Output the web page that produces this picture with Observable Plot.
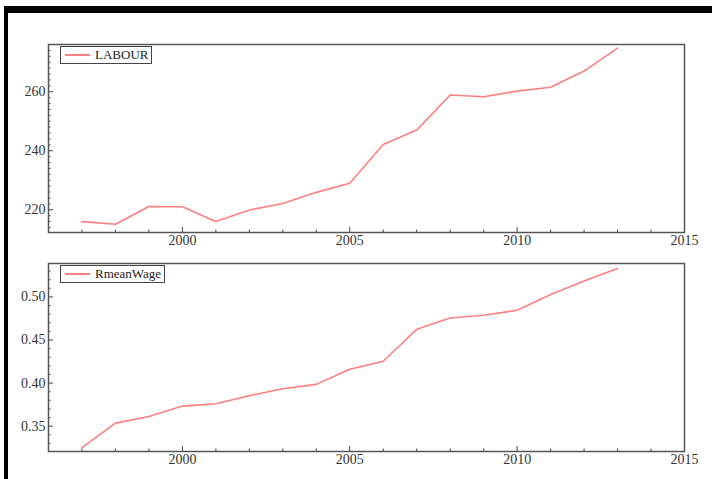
<!DOCTYPE html>
<html><head><meta charset="utf-8">
<script src="https://cdn.jsdelivr.net/npm/d3@7"></script>
<script src="https://cdn.jsdelivr.net/npm/@observablehq/plot@0.6"></script>
<style>
body{margin:0;background:#fff;width:712px;height:479px;overflow:hidden;position:relative;font-family:"Liberation Serif","DejaVu Serif",serif;}
#border{position:absolute;left:4px;top:6px;width:708px;height:473px;border-top:7px solid #000;border-left:4px solid #000;box-sizing:border-box;}
.panel{position:absolute;left:0;}
.legend{position:absolute;border:1px solid #444;background:#fff;height:16px;display:flex;align-items:center;font-size:13px;color:#222;padding-right:3px;box-sizing:content-box;}
.legend .sw{display:inline-block;width:25px;height:2px;background:#ff7f7f;margin:0 5px 0 4px;}
</style></head><body>
<div id="border"></div>
<div id="top" class="panel" style="top:0"></div>
<div id="bot" class="panel" style="top:250px"></div>
<div class="legend" style="left:60px;top:46px"><span class="sw"></span>LABOUR</div>
<div class="legend" style="left:60px;top:265px"><span class="sw"></span>RmeanWage</div>
<script>
const years = [1997,1998,1999,2000,2001,2002,2003,2004,2005,2006,2007,2008,2009,2010,2011,2012,2013];
const labour = [216.0,215.1,221.1,221.0,216.0,219.9,222.1,225.9,229.0,242.1,247.0,258.9,258.3,260.2,261.5,267.0,274.8];
const wage = [0.325,0.3535,0.3613,0.3733,0.376,0.3853,0.3935,0.3985,0.416,0.4254,0.4624,0.4756,0.4787,0.4845,0.5028,0.5186,0.533];
const xMajorTicks = [2000,2005,2010,2015];
const xMinorTicks = [1997,1998,1999,2001,2002,2003,2004,2006,2007,2008,2009,2011,2012,2013,2014];
const labourTicks = [220,240,260];
const labourMinor = [214,216,218,222,224,226,228,230,232,234,236,238,242,244,246,248,250,252,254,256,258,262,264,266,268,270,272,274];
const wageTicks = [0.35,0.40,0.45,0.50];
const wageMinor = [0.33,0.34,0.36,0.37,0.38,0.39,0.41,0.42,0.43,0.44,0.46,0.47,0.48,0.49,0.51,0.52,0.53];

const FONT = '"Liberation Serif","DejaVu Serif",serif';
function panel({values, yDomain, yTicks, yMinor, yFormat, height, marginTop, marginBottom}) {
  const W = 712, mL = 48, mR = 28;
  const pw = W - mL - mR, ph = height - marginTop - marginBottom;
  const data = years.map((year, i) => ({year, value: values[i]}));
  return Plot.plot({
    width: W, height, marginLeft: mL, marginRight: mR, marginTop, marginBottom,
    style: {fontFamily: FONT, fontSize: "14px", color: "#333", background: "transparent"},
    x: {domain: [1996, 2015], label: null},
    y: {domain: yDomain, label: null},
    marks: [
      Plot.axisX({ticks: xMajorTicks, tickSize: 0, tickPadding: 3, tickFormat: d => String(d), fontSize: 14, fill: "#333"}),
      Plot.axisY({ticks: yTicks, tickSize: 0, tickPadding: 3, tickFormat: yFormat, fontSize: 14, fill: "#333"}),
      Plot.tickX(xMajorTicks, {x: d => d, stroke: "#444", insetTop: ph - 5}),
      Plot.tickX(xMinorTicks, {x: d => d, stroke: "#444", insetTop: ph - 2.5}),
      Plot.tickY(yTicks, {y: d => d, stroke: "#444", insetRight: pw - 5}),
      Plot.tickY(yMinor, {y: d => d, stroke: "#444", insetRight: pw - 2.5}),
      Plot.lineY(data, {x: "year", y: "value", stroke: "#ff7f7f", strokeWidth: 1.6}),
      Plot.frame({stroke: "#555", strokeWidth: 1.5})
    ]
  });
}
document.getElementById("top").append(panel({
  values: labour, yDomain: [212.3, 276], yTicks: labourTicks, yMinor: labourMinor,
  yFormat: d => String(d), height: 250, marginTop: 44, marginBottom: 18
}));
document.getElementById("bot").append(panel({
  values: wage, yDomain: [0.3206, 0.5388], yTicks: wageTicks, yMinor: wageMinor,
  yFormat: d3.format(".2f"), height: 229, marginTop: 13, marginBottom: 28
}));
</script>
</body></html>
